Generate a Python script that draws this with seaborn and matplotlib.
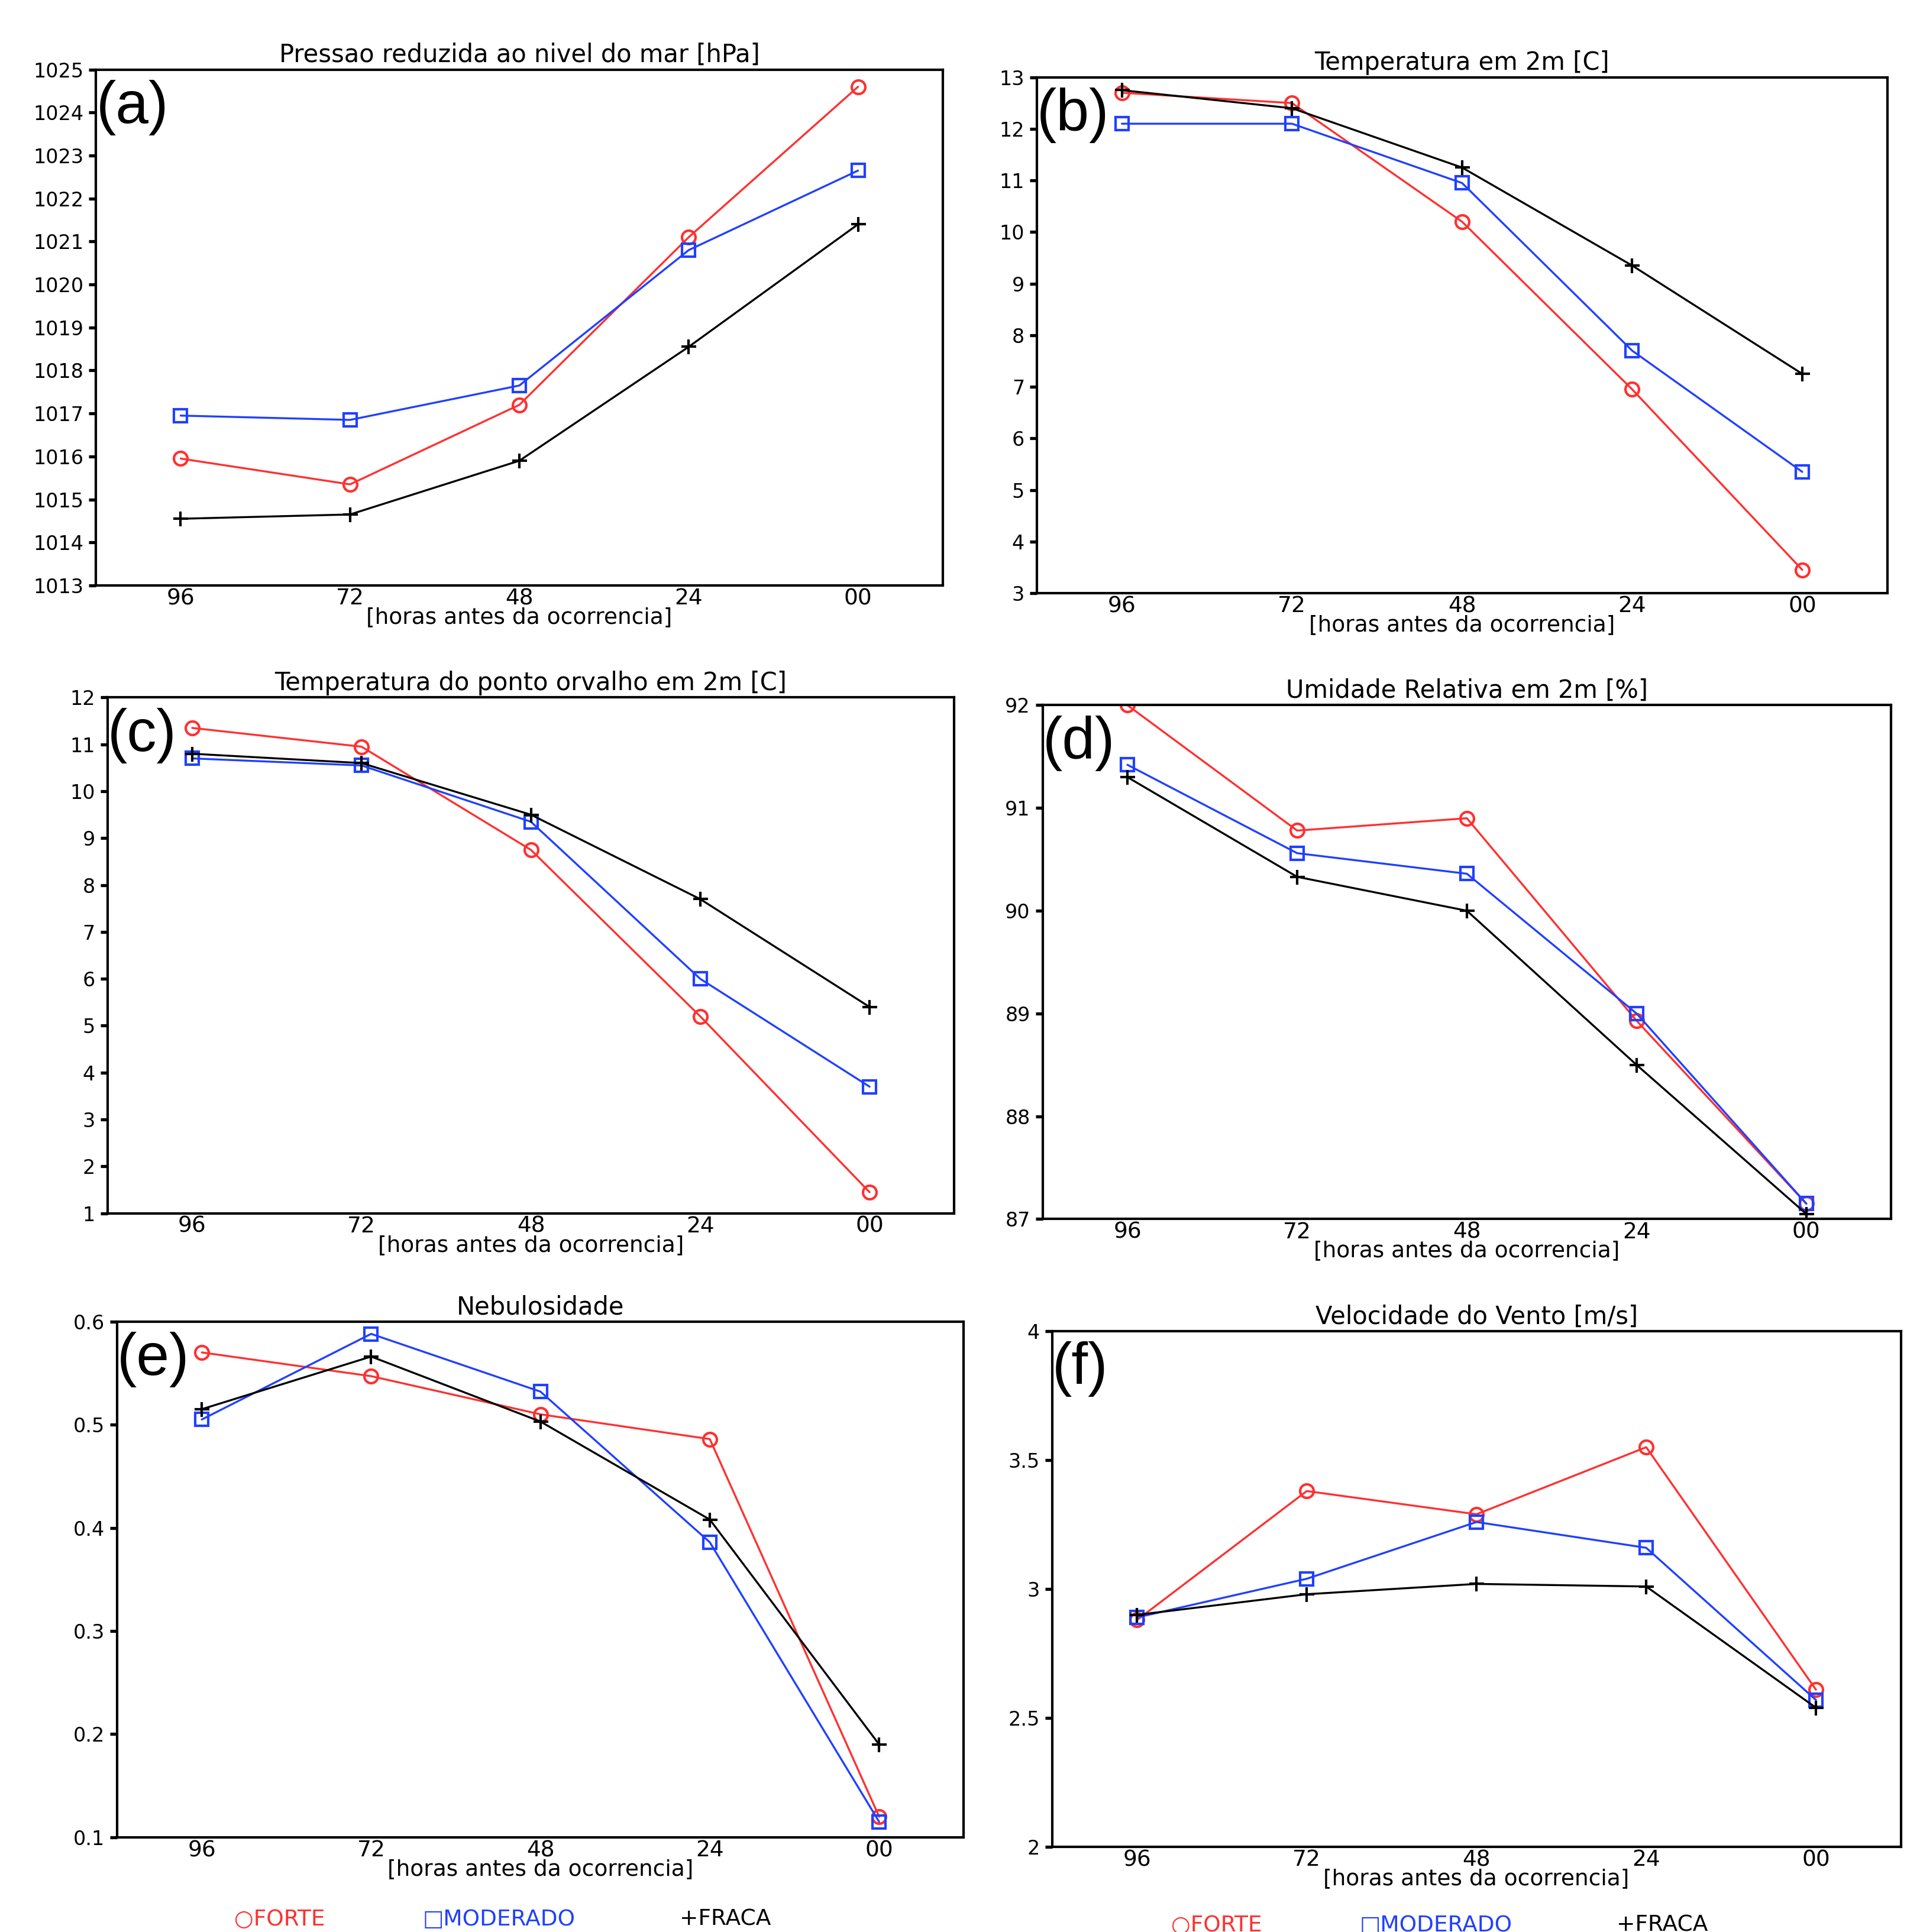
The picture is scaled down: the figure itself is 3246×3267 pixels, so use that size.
import matplotlib
matplotlib.use("Agg")
import matplotlib.pyplot as plt
import seaborn as sns
import pandas as pd

sns.set_theme(style="white")
plt.rcParams['font.family'] = ['DejaVu Sans']
plt.rcParams['text.color'] = 'black'
plt.rcParams['axes.labelcolor'] = 'black'
plt.rcParams['xtick.color'] = 'black'
plt.rcParams['ytick.color'] = 'black'

horas = ["96", "72", "48", "24", "00"]
series = ["FORTE", "MODERADO", "FRACA"]

pressao = {"FORTE": [1015.95, 1015.35, 1017.2, 1021.1, 1024.6],
           "MODERADO": [1016.95, 1016.85, 1017.65, 1020.8, 1022.65],
           "FRACA": [1014.55, 1014.65, 1015.9, 1018.55, 1021.4]}
temp = {"FORTE": [12.7, 12.5, 10.2, 6.95, 3.45],
        "MODERADO": [12.1, 12.1, 10.95, 7.7, 5.35],
        "FRACA": [12.75, 12.4, 11.25, 9.35, 7.25]}
orvalho = {"FORTE": [11.35, 10.95, 8.75, 5.2, 1.45],
           "MODERADO": [10.7, 10.55, 9.35, 6.0, 3.7],
           "FRACA": [10.8, 10.6, 9.5, 7.7, 5.4]}
umidade = {"FORTE": [92.0, 90.78, 90.9, 88.93, 87.15],
           "MODERADO": [91.42, 90.56, 90.36, 89.0, 87.15],
           "FRACA": [91.3, 90.33, 90.0, 88.5, 87.05]}
nebul = {"FORTE": [0.57, 0.547, 0.51, 0.486, 0.12],
         "MODERADO": [0.505, 0.588, 0.532, 0.386, 0.115],
         "FRACA": [0.515, 0.566, 0.503, 0.408, 0.19]}
vento = {"FORTE": [2.88, 3.38, 3.29, 3.55, 2.61],
         "MODERADO": [2.89, 3.04, 3.26, 3.16, 2.57],
         "FRACA": [2.9, 2.98, 3.02, 3.01, 2.54]}

cores = {"FORTE": "#ff3030", "MODERADO": "#2040ff", "FRACA": "black"}
marcadores = {"FORTE": "o", "MODERADO": "s", "FRACA": "+"}

paineis = [
    ("(a)", "Pressao reduzida ao nivel do mar [hPa]", pressao, (1013, 1025), list(range(1013, 1026)), [0.050, 0.697, 0.441, 0.267]),
    ("(b)", "Temperatura em 2m [C]", temp, (3, 13), list(range(3, 14)), [0.540, 0.693, 0.443, 0.267]),
    ("(c)", "Temperatura do ponto orvalho em 2m [C]", orvalho, (1, 12), list(range(1, 13)), [0.056, 0.372, 0.441, 0.267]),
    ("(d)", "Umidade Relativa em 2m [%]", umidade, (87, 92), list(range(87, 93)), [0.543, 0.369, 0.442, 0.266]),
    ("(e)", "Nebulosidade", nebul, (0.1, 0.6), [0.1, 0.2, 0.3, 0.4, 0.5, 0.6], [0.061, 0.049, 0.441, 0.267]),
    ("(f)", "Velocidade do Vento [m/s]", vento, (2, 4), [2, 2.5, 3, 3.5, 4], [0.548, 0.044, 0.442, 0.267]),
]

fig = plt.figure(figsize=(10.82, 10.89), dpi=300)

for letra, titulo, dados, ylim, yticks, pos in paineis:
    ax = fig.add_axes(pos)
    rows = []
    for s in series:
        for i, v in enumerate(dados[s]):
            rows.append({"x": i, "y": v, "serie": s})
    df = pd.DataFrame(rows)
    for s in series:
        d = df[df.serie == s]
        sns.lineplot(data=d, x="x", y="y", ax=ax, color=cores[s], lw=0.8,
                     marker=marcadores[s], markersize=6 if s == "FRACA" else 5.5,
                     markerfacecolor="none" if s != "FRACA" else cores[s],
                     markeredgecolor=cores[s], markeredgewidth=1.0)
    ax.set_xlim(-0.5, 4.5)
    ax.set_ylim(*ylim)
    ax.set_yticks(yticks)
    ax.set_yticklabels([f"{t:g}" for t in yticks], fontsize=8)
    ax.set_xticks(range(5))
    ax.set_xticklabels(horas, fontsize=9)
    ax.tick_params(axis='y', direction='out', length=3, left=True, pad=2)
    ax.tick_params(axis='x', length=0, pad=1)
    ax.set_xlabel("[horas antes da ocorrencia]", fontsize=9, labelpad=-1)
    ax.set_ylabel("")
    ax.set_title(titulo, fontsize=10, pad=3)
    for sp in ax.spines.values():
        sp.set_color("black")
        sp.set_linewidth(1.0)
    ax.text(0.0, 0.98, letra, transform=ax.transAxes, fontsize=24,
            family="Liberation Sans", va="top", ha="left", color="black")

simbolos = {"FORTE": "○", "MODERADO": "□", "FRACA": "+"}
for y, xs in [(0.001, [0.122, 0.22, 0.354]), (-0.002, [0.61, 0.708, 0.842])]:
    for s, x in zip(series, xs):
        fig.text(x, y, simbolos[s] + s, color=cores[s], fontsize=9, va="bottom")

fig.savefig("out.png", dpi=300)
